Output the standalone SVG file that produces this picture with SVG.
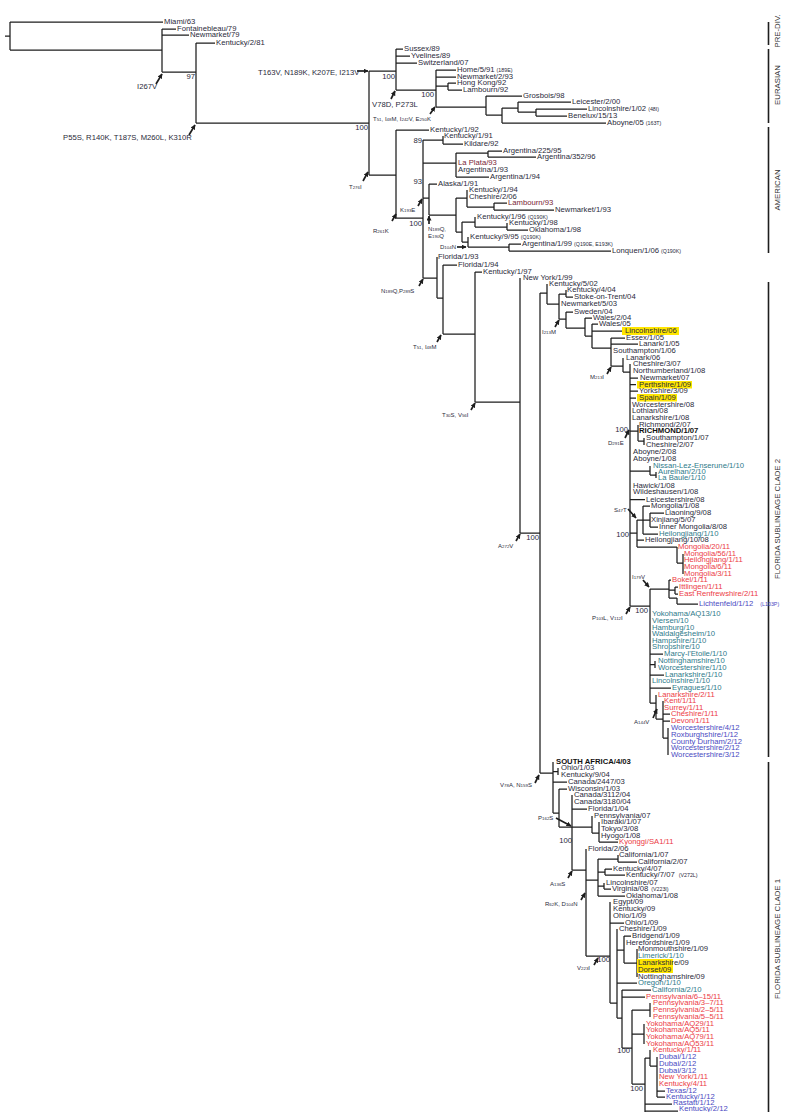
<svg xmlns="http://www.w3.org/2000/svg" width="799" height="1112" viewBox="0 0 799 1112">
<style>
text{font-family:"Liberation Sans",Arial,sans-serif;}
.t{font-size:7.7px;fill:#2a2a3a;}
.r{fill:#ec3b45;}
.b{fill:#4a4ac2;}
.g{fill:#2e7a8a;}
.mr{fill:#7a2535;}
.bd{font-weight:bold;fill:#111;}
.p{font-size:5.3px;}
.m{font-size:6px;fill:#2a2a3a;}
.d{font-size:4.4px;}
.bs{font-size:7.7px;fill:#2a2a3a;text-anchor:end;}
.cl{font-size:7.8px;fill:#333;text-anchor:middle;}
.e{fill:none;stroke:#1e1e1e;stroke-width:1.25;}
.bar{fill:none;stroke:#1e1e1e;stroke-width:1.6;}
.ar{stroke:#1e1e1e;stroke-width:1.7;marker-end:url(#ah);}
.hl{fill:#ffe600;}
</style>
<defs>
<marker id="ah" viewBox="0 0 10 10" refX="9" refY="5" markerWidth="5" markerHeight="5" orient="auto" markerUnits="userSpaceOnUse"><path d="M0,0 L10,5 L0,10 z" fill="#1e1e1e"/></marker>
</defs>
<rect width="799" height="1112" fill="#fff"/>

<g id="connectors">
<path class="e" d="M5,36H10 M10,22V50 M10,22H163 M10,50H162 M162,29V72 M162,29H176 M162,35H189 M162,72H196 M196,43V123 M196,43H215 M196,123H369 M369,71V175 M369,71H396
M396,49V90 M396,49H403 M396,56H410 M396,63H417 M396,90H436 M436,70V107 M436,70H456 M436,77H456 M436,86H448 M448,83V90 M448,83H456 M448,90H462 M436,107H486 M486,96V115 M486,96H522 M486,115H502 M502,108V123 M502,108H518 M518,102V112 M518,102H571 M518,112H536 M536,109V116 M536,109H587 M536,116H567 M502,123H606
M369,175H396 M396,130V218 M396,130H429 M396,218H423 M423,140V278 M423,140H443 M443,136V144 M443,144H463 M423,163H456 M456,153V177 M456,153H488 M488,151V157 M488,151H502 M488,157H536 M456,177H489 M423,198H429 M429,184V215 M429,184H437 M429,215H456 M456,198V232 M456,198H467 M467,190V207 M467,207H494 M494,203V210 M494,203H507 M494,210H554 M456,232H462 M462,222V242 M462,222H475 M475,217V227 M475,227H507 M507,223V230 M507,230H528 M462,242H468 M468,237V247 M468,247H509 M509,244V251 M509,244H521 M509,251H611
M423,278H437 M437,257V298 M437,298H443 M443,265V334 M443,265H457 M443,334H475 M475,272V402 M475,272H482 M475,402H520 M520,278V533 M520,533H540 M540,293V773
M540,293H547 M547,284V304 M547,304H559 M559,294V319 M559,294H566 M566,290V297 M566,297H573 M559,319H566 M566,312V328 M566,312H573 M566,328H585 M585,318V336 M585,318H592 M585,336H592 M592,324V348 M592,324H598 M592,331H622 M592,348H611 M611,338V366 M611,338H625 M611,344H638 M611,366H623 M623,358V372 M623,372H630 M630,364V606 M630,378H638 M630,384.5H636 M630,391H638 M630,398H636 M630,431H638 M638,425V441 M638,441H644 M644,438V445 M630,471H650 M650,466V475 M650,475H656 M656,472V478 M630,499.5H645 M630,533H637 M637,520V547 M637,520H643 M637,540H644 M637,547H677 M643,506V534 M643,506H650 M643,520H650 M650,513V527 M650,513H664 M650,527H658 M643,534H658 M677,547V563 M677,563H683 M683,554V574 M630,606H650 M650,589V703 M650,589H669 M669,580V598 M669,580H671 M669,590H675 M675,587V594 M675,587H678 M675,594H678 M669,598H677 M677,598V604 M677,604H698 M650,654H663 M650,664.5H655 M655,661V668 M650,675H664 M650,688H671 M650,703H656 M656,695V719 M656,719H663 M663,701V738 M663,714H670 M663,721H670 M663,738H668 M668,728V755
M540,773H553 M553,762V813 M553,771.5H558 M558,768V775 M553,782H567 M553,813H559 M559,789V827 M559,789H567 M559,827H592 M572,795V870 M572,809H587 M592,816V833 M592,833H599 M599,822V842 M599,842H618 M572,870H586 M586,849V956 M586,880H598 M598,859V896 M598,859H618 M618,855V862 M618,862H637 M598,872H605 M605,869V875 M605,869H612 M605,875H625 M598,886H604 M604,883V889 M604,889H611 M598,896H625 M586,956H610 M610,902V1003 M610,923H624 M610,1003H617 M617,929V1018 M617,950H624 M624,936V963 M624,936H631 M624,963H637 M637,949V977 M617,983H637 M617,1018H622 M622,990V1048 M622,990H651 M622,997H645 M622,1048H632 M632,1010V1084 M632,1010H650 M650,1003V1017 M632,1034H644 M644,1024V1044 M632,1084H645 M645,1058V1112 M645,1058H650 M650,1050V1066 M650,1066H657 M657,1057V1097 M657,1091H665 M657,1097H665 M645,1104H672 M645,1111H678"/>
<line class="ar" x1="156" y1="84" x2="162" y2="74"/>
<line class="ar" x1="189" y1="135" x2="195" y2="125"/>
<line class="ar" x1="357" y1="71" x2="368" y2="71"/>
<line class="ar" x1="391" y1="99" x2="395" y2="91"/>
<line class="ar" x1="430" y1="114" x2="435" y2="107"/>
<line class="ar" x1="363" y1="181" x2="368" y2="172"/>
<line class="ar" x1="392" y1="221" x2="396" y2="214"/>
<line class="ar" x1="418" y1="206" x2="422" y2="199"/>
<line class="ar" x1="429" y1="224" x2="429" y2="216"/>
<line class="ar" x1="457" y1="247" x2="466" y2="247"/>
<line class="ar" x1="419" y1="286" x2="423" y2="279"/>
<line class="ar" x1="437" y1="342" x2="441" y2="335"/>
<line class="ar" x1="471" y1="410" x2="475" y2="403"/>
<line class="ar" x1="555" y1="327" x2="559" y2="320"/>
<line class="ar" x1="607" y1="374" x2="611" y2="367"/>
<line class="ar" x1="625" y1="438" x2="629" y2="430"/>
<line class="ar" x1="628" y1="509" x2="636" y2="518"/>
<line class="ar" x1="516" y1="541" x2="520" y2="534"/>
<line class="ar" x1="643" y1="580" x2="649" y2="587"/>
<line class="ar" x1="626" y1="614" x2="630" y2="607"/>
<line class="ar" x1="653" y1="718" x2="657" y2="709"/>
<line class="ar" x1="535" y1="783" x2="539" y2="775"/>
<line class="ar" x1="556" y1="818" x2="571" y2="826"/>
<line class="ar" x1="568" y1="878" x2="572" y2="871"/>
<line class="ar" x1="581" y1="900" x2="585" y2="893"/>
<line class="ar" x1="594" y1="965" x2="598" y2="958"/>
</g>

<g id="clade-bars">
<path class="bar" d="M768.5,22V45 M768.5,49V123 M768.5,127V253 M768.5,282V757 M768.5,762V1112"/>
<text class="cl" transform="translate(780,31) rotate(-90)">PRE-DIV.</text>
<text class="cl" transform="translate(780,85) rotate(-90)">EURASIAN</text>
<text class="cl" transform="translate(780,190) rotate(-90)">AMERICAN</text>
<text class="cl" transform="translate(780,519) rotate(-90)">FLORIDA SUBLINEAGE CLADE 2</text>
<text class="cl" transform="translate(780,939) rotate(-90)">FLORIDA SUBLINEAGE CLADE 1</text>
</g>

<g id="mutations">
<text class="t" x="137" y="89">I267V</text>
<text class="t" x="63" y="140">P55S, R140K, T187S, M260L, K310R</text>
<text class="t" x="258" y="75">T163V, N189K, K207E, I213V</text>
<text class="t" x="372" y="107">V78D, P273L</text>
<text class="m" x="373" y="121">T<tspan class="d">51</tspan>, I<tspan class="d">48</tspan>M, I<tspan class="d">242</tspan>V, E<tspan class="d">250</tspan>K</text>
<text class="m" x="349" y="189">T<tspan class="d">276</tspan>I</text>
<text class="m" x="373" y="233">R<tspan class="d">261</tspan>K</text>
<text class="m" x="400" y="212">K<tspan class="d">193</tspan>E</text>
<text class="m" x="428" y="231">N<tspan class="d">189</tspan>Q,</text>
<text class="m" x="428" y="238">E<tspan class="d">190</tspan>Q</text>
<text class="m" x="440" y="249">D<tspan class="d">104</tspan>N</text>
<text class="m" x="381" y="293">N<tspan class="d">189</tspan>Q,P<tspan class="d">289</tspan>S</text>
<text class="m" x="413" y="349">T<tspan class="d">51</tspan>, I<tspan class="d">48</tspan>M</text>
<text class="m" x="442" y="417">T<tspan class="d">30</tspan>S, V<tspan class="d">56</tspan>I</text>
<text class="m" x="542" y="334">I<tspan class="d">213</tspan>M</text>
<text class="m" x="590" y="379">M<tspan class="d">213</tspan>I</text>
<text class="m" x="608" y="445">D<tspan class="d">291</tspan>E</text>
<text class="m" x="614" y="512">S<tspan class="d">47</tspan>T</text>
<text class="m" x="498" y="548">A<tspan class="d">272</tspan>V</text>
<text class="m" x="632" y="579">I<tspan class="d">179</tspan>V</text>
<text class="m" x="592" y="620">P<tspan class="d">103</tspan>L, V<tspan class="d">112</tspan>I</text>
<text class="m" x="634" y="724">A<tspan class="d">144</tspan>V</text>
<text class="m" x="500" y="787">V<tspan class="d">78</tspan>A, N<tspan class="d">159</tspan>S</text>
<text class="m" x="538" y="820">P<tspan class="d">162</tspan>S</text>
<text class="m" x="550" y="886">A<tspan class="d">136</tspan>S</text>
<text class="m" x="545" y="906">R<tspan class="d">62</tspan>K, D<tspan class="d">104</tspan>N</text>
<text class="m" x="577" y="970">V<tspan class="d">223</tspan>I</text>
</g>

<g id="bootstrap">
<text class="bs" x="195" y="79">97</text>
<text class="bs" x="368" y="130">100</text>
<text class="bs" x="395" y="79">100</text>
<text class="bs" x="434" y="97">100</text>
<text class="bs" x="422" y="143">89</text>
<text class="bs" x="422" y="184">93</text>
<text class="bs" x="422" y="226">100</text>
<text class="bs" x="539" y="540">100</text>
<text class="bs" x="628" y="432">100</text>
<text class="bs" x="629" y="537">100</text>
<text class="bs" x="648" y="613">100</text>
<text class="bs" x="572" y="843">100</text>
<text class="bs" x="610" y="962">100</text>
<text class="bs" x="630" y="1053">100</text>
<text class="bs" x="643" y="1091">100</text>
</g>

<g id="highlights">
<rect class="hl" x="622" y="327" width="57" height="8"/>
<rect class="hl" x="637" y="381" width="55" height="7.5"/>
<rect class="hl" x="637" y="394" width="40" height="7.5"/>
<rect class="hl" x="637" y="959" width="36" height="7"/>
<rect class="hl" x="637" y="966" width="36" height="7"/>
</g>

<g id="leaves">
<g id="n001"><text class="t" x="164" y="24">Miami/63</text></g>
<g id="n002"><text class="t" x="177" y="31">Fontainebleau/79</text></g>
<g id="n003"><text class="t" x="190" y="37">Newmarket/79</text></g>
<g id="n004"><text class="t" x="216" y="45">Kentucky/2/81</text></g>
<g id="n005"><text class="t" x="404" y="51">Sussex/89</text></g>
<g id="n006"><text class="t" x="411" y="58">Yvelines/89</text></g>
<g id="n007"><text class="t" x="418" y="65">Switzerland/07</text></g>
<g id="n008"><text class="t" x="457" y="72">Home/5/91<tspan class="p" dx="2">(189E)</tspan></text></g>
<g id="n009"><text class="t" x="457" y="79">Newmarket/2/93</text></g>
<g id="n010"><text class="t" x="457" y="85">Hong Kong/92</text></g>
<g id="n011"><text class="t" x="463" y="92">Lambourn/92</text></g>
<g id="n012"><text class="t" x="523" y="98">Grosbois/98</text></g>
<g id="n013"><text class="t" x="572" y="104">Leicester/2/00</text></g>
<g id="n014"><text class="t" x="588" y="111">Lincolnshire/1/02<tspan class="p" dx="2">(48I)</tspan></text></g>
<g id="n015"><text class="t" x="568" y="118">Benelux/15/13</text></g>
<g id="n016"><text class="t" x="607" y="125">Aboyne/05<tspan class="p" dx="2">(163T)</tspan></text></g>
<g id="n017"><text class="t" x="430" y="132">Kentucky/1/92</text></g>
<g id="n018"><text class="t" x="444" y="138">Kentucky/1/91</text></g>
<g id="n019"><text class="t" x="464" y="146">Kildare/92</text></g>
<g id="n020"><text class="t" x="503" y="153">Argentina/225/95</text></g>
<g id="n021"><text class="t" x="537" y="159">Argentina/352/96</text></g>
<g id="n022"><text class="t mr" x="458" y="165">La Plata/93</text></g>
<g id="n023"><text class="t" x="458" y="172">Argentina/1/93</text></g>
<g id="n024"><text class="t" x="490" y="179">Argentina/1/94</text></g>
<g id="n025"><text class="t" x="438" y="186">Alaska/1/91</text></g>
<g id="n026"><text class="t" x="469" y="192">Kentucky/1/94</text></g>
<g id="n027"><text class="t" x="469" y="199">Cheshire/2/06</text></g>
<g id="n028"><text class="t mr" x="508" y="205">Lambourn/93</text></g>
<g id="n029"><text class="t" x="555" y="212">Newmarket/1/93</text></g>
<g id="n030"><text class="t" x="477" y="219">Kentucky/1/96<tspan class="p" dx="2">(Q190K)</tspan></text></g>
<g id="n031"><text class="t" x="509" y="225">Kentucky/1/98</text></g>
<g id="n032"><text class="t" x="529" y="232">Oklahoma/1/98</text></g>
<g id="n033"><text class="t" x="470" y="239">Kentucky/9/95<tspan class="p" dx="2">(Q190K)</tspan></text></g>
<g id="n034"><text class="t" x="522" y="246">Argentina/1/99<tspan class="p" dx="2">(Q190E, E193K)</tspan></text></g>
<g id="n035"><text class="t" x="612" y="253">Lonquen/1/06<tspan class="p" dx="2">(Q190K)</tspan></text></g>
<g id="n036"><text class="t" x="438" y="259">Florida/1/93</text></g>
<g id="n037"><text class="t" x="458" y="267">Florida/1/94</text></g>
<g id="n038"><text class="t" x="483" y="274">Kentucky/1/97</text></g>
<g id="n039"><text class="t" x="523" y="280">New York/1/99</text></g>
<g id="n040"><text class="t" x="549" y="286">Kentucky/5/02</text></g>
<g id="n041"><text class="t" x="567" y="292">Kentucky/4/04</text></g>
<g id="n042"><text class="t" x="574" y="299">Stoke-on-Trent/04</text></g>
<g id="n043"><text class="t" x="561" y="306">Newmarket/5/03</text></g>
<g id="n044"><text class="t" x="574" y="314">Sweden/04</text></g>
<g id="n045"><text class="t" x="593" y="320">Wales/2/04</text></g>
<g id="n046"><text class="t" x="599" y="326">Wales/05</text></g>
<g id="n047"><text class="t" x="625" y="333">Lincolnshire/06</text></g>
<g id="n048"><text class="t" x="626" y="340">Essex/1/05</text></g>
<g id="n049"><text class="t" x="639" y="346">Lanark/1/05</text></g>
<g id="n050"><text class="t" x="613" y="353">Southampton/1/06</text></g>
<g id="n051"><text class="t" x="626" y="360">Lanark/06</text></g>
<g id="n052"><text class="t" x="633" y="366">Cheshire/3/07</text></g>
<g id="n053"><text class="t" x="633" y="373">Northumberland/1/08</text></g>
<g id="n054"><text class="t" x="640" y="380">Newmarket/07</text></g>
<g id="n055"><text class="t" x="639" y="386.5">Perthshire/1/09</text></g>
<g id="n056"><text class="t" x="639" y="393">Yorkshire/3/09</text></g>
<g id="n057"><text class="t" x="639" y="400">Spain/1/09</text></g>
<g id="n058"><text class="t" x="632" y="407">Worcestershire/08</text></g>
<g id="n059"><text class="t" x="632" y="413">Lothian/08</text></g>
<g id="n060"><text class="t" x="632" y="420">Lanarkshire/1/08</text></g>
<g id="n061"><text class="t" x="639" y="427">Richmond/2/07</text></g>
<g id="n062"><text class="t bd" x="639" y="433">RICHMOND/1/07</text></g>
<g id="n063"><text class="t" x="646" y="440">Southampton/1/07</text></g>
<g id="n064"><text class="t" x="646" y="447">Cheshire/2/07</text></g>
<g id="n065"><text class="t" x="633" y="454">Aboyne/2/08</text></g>
<g id="n066"><text class="t" x="633" y="461">Aboyne/1/08</text></g>
<g id="n067"><text class="t g" x="653" y="468">Nissan-Lez-Enserune/1/10</text></g>
<g id="n068"><text class="t g" x="658" y="474">Aurelhan/2/10</text></g>
<g id="n069"><text class="t g" x="658" y="480">La Baule/1/10</text></g>
<g id="n070"><text class="t" x="633" y="488">Hawick/1/08</text></g>
<g id="n071"><text class="t" x="633" y="494">Wildeshausen/1/08</text></g>
<g id="n072"><text class="t" x="646" y="501.5">Leicestershire/08</text></g>
<g id="n073"><text class="t" x="651" y="508">Mongolia/1/08</text></g>
<g id="n074"><text class="t" x="665" y="515">Liaoning/9/08</text></g>
<g id="n075"><text class="t" x="651" y="522">Xinjiang/5/07</text></g>
<g id="n076"><text class="t" x="659" y="529">Inner Mongolia/8/08</text></g>
<g id="n077"><text class="t g" x="659" y="536">Heilongjiang/1/10</text></g>
<g id="n078"><text class="t" x="645" y="542">Heilongjiang/10/08</text></g>
<g id="n079"><text class="t r" x="678" y="549">Mongolia/20/11</text></g>
<g id="n080"><text class="t r" x="684" y="556">Mongolia/56/11</text></g>
<g id="n081"><text class="t r" x="684" y="562">Heilongjiang/1/11</text></g>
<g id="n082"><text class="t r" x="684" y="569">Mongolia/6/11</text></g>
<g id="n083"><text class="t r" x="684" y="576">Mongolia/3/11</text></g>
<g id="n084"><text class="t r" x="672" y="582">Bokel/1/11</text></g>
<g id="n085"><text class="t r" x="679" y="589">Ittlingen/1/11</text></g>
<g id="n086"><text class="t r" x="679" y="596">East Renfrewshire/2/11</text></g>
<g id="n087"><text class="t b" x="699" y="606">Lichtenfeld/1/12<tspan class="p" dx="7">(L103P)</tspan></text></g>
<g id="n088"><text class="t g" x="652" y="616">Yokohama/AQ13/10</text></g>
<g id="n089"><text class="t g" x="652" y="623">Viersen/10</text></g>
<g id="n090"><text class="t g" x="652" y="630">Hamburg/10</text></g>
<g id="n091"><text class="t g" x="652" y="636">Waldalgesheim/10</text></g>
<g id="n092"><text class="t g" x="652" y="643">Hampshire/1/10</text></g>
<g id="n093"><text class="t g" x="652" y="649">Shropshire/10</text></g>
<g id="n094"><text class="t g" x="664" y="656">Marcy-l'Etoile/1/10</text></g>
<g id="n095"><text class="t g" x="658" y="663">Nottinghamshire/10</text></g>
<g id="n096"><text class="t g" x="658" y="670">Worcestershire/1/10</text></g>
<g id="n097"><text class="t g" x="665" y="677">Lanarkshire/1/10</text></g>
<g id="n098"><text class="t g" x="652" y="683">Lincolnshire/1/10</text></g>
<g id="n099"><text class="t g" x="672" y="690">Eyragues/1/10</text></g>
<g id="n100"><text class="t r" x="658" y="697">Lanarkshire/2/11</text></g>
<g id="n101"><text class="t r" x="664" y="703">Kent/1/11</text></g>
<g id="n102"><text class="t r" x="664" y="710">Surrey/1/11</text></g>
<g id="n103"><text class="t r" x="671" y="716">Cheshire/1/11</text></g>
<g id="n104"><text class="t r" x="671" y="723">Devon/1/11</text></g>
<g id="n105"><text class="t b" x="671" y="730">Worcestershire/4/12</text></g>
<g id="n106"><text class="t b" x="671" y="737">Roxburghshire/1/12</text></g>
<g id="n107"><text class="t b" x="671" y="744">County Durham/2/12</text></g>
<g id="n108"><text class="t b" x="671" y="750">Worcestershire/2/12</text></g>
<g id="n109"><text class="t b" x="671" y="757">Worcestershire/3/12</text></g>
<g id="n110"><text class="t bd" x="556" y="764">SOUTH AFRICA/4/03</text></g>
<g id="n111"><text class="t" x="561" y="770">Ohio/1/03</text></g>
<g id="n112"><text class="t" x="561" y="777">Kentucky/9/04</text></g>
<g id="n113"><text class="t" x="568" y="784">Canada/2447/03</text></g>
<g id="n114"><text class="t" x="568" y="791">Wisconsin/1/03</text></g>
<g id="n115"><text class="t" x="574" y="797">Canada/3112/04</text></g>
<g id="n116"><text class="t" x="574" y="804">Canada/3180/04</text></g>
<g id="n117"><text class="t" x="588" y="811">Florida/1/04</text></g>
<g id="n118"><text class="t" x="594" y="818">Pennsylvania/07</text></g>
<g id="n119"><text class="t" x="601" y="824">Ibaraki/1/07</text></g>
<g id="n120"><text class="t" x="601" y="831">Tokyo/3/08</text></g>
<g id="n121"><text class="t" x="601" y="838">Hyogo/1/08</text></g>
<g id="n122"><text class="t r" x="619" y="844">Kyonggi/SA1/11</text></g>
<g id="n123"><text class="t" x="588" y="851">Florida/2/06</text></g>
<g id="n124"><text class="t" x="619" y="857">California/1/07</text></g>
<g id="n125"><text class="t" x="638" y="864">California/2/07</text></g>
<g id="n126"><text class="t" x="613" y="871">Kentucky/4/07</text></g>
<g id="n127"><text class="t" x="626" y="877">Kentucky/7/07<tspan class="p" dx="4">(V272L)</tspan></text></g>
<g id="n128"><text class="t" x="606" y="885">Lincolnshire/07</text></g>
<g id="n129"><text class="t" x="612" y="891">Virginia/08<tspan class="p" dx="3">(V223I)</tspan></text></g>
<g id="n130"><text class="t" x="626" y="898">Oklahoma/1/08</text></g>
<g id="n131"><text class="t" x="613" y="904">Egypt/09</text></g>
<g id="n132"><text class="t" x="613" y="911">Kentucky/09</text></g>
<g id="n133"><text class="t" x="613" y="918">Ohio/1/09</text></g>
<g id="n134"><text class="t" x="625" y="925">Ohio/1/09</text></g>
<g id="n135"><text class="t" x="619" y="931">Cheshire/1/09</text></g>
<g id="n136"><text class="t" x="632" y="938">Bridgend/1/09</text></g>
<g id="n137"><text class="t" x="626" y="945">Herefordshire/1/09</text></g>
<g id="n138"><text class="t" x="638" y="951">Monmouthshire/1/09</text></g>
<g id="n139"><text class="t g" x="638" y="958">Limerick/1/10</text></g>
<g id="n140"><text class="t" x="638" y="965">Lanarkshire/09</text></g>
<g id="n141"><text class="t" x="638" y="972">Dorset/09</text></g>
<g id="n142"><text class="t" x="638" y="979">Nottinghamshire/09</text></g>
<g id="n143"><text class="t g" x="638" y="985">Oregon/1/10</text></g>
<g id="n144"><text class="t g" x="652" y="992">California/2/10</text></g>
<g id="n145"><text class="t r" x="646" y="999">Pennsylvania/6–15/11</text></g>
<g id="n146"><text class="t r" x="653" y="1005">Pennsylvania/3–7/11</text></g>
<g id="n147"><text class="t r" x="653" y="1012">Pennsylvania/2–5/11</text></g>
<g id="n148"><text class="t r" x="653" y="1019">Pennsylvania/5–5/11</text></g>
<g id="n149"><text class="t r" x="646" y="1026">Yokohama/AQ29/11</text></g>
<g id="n150"><text class="t r" x="646" y="1032">Yokohama/AQ5/11</text></g>
<g id="n151"><text class="t r" x="646" y="1039">Yokohama/AQ79/11</text></g>
<g id="n152"><text class="t r" x="646" y="1046">Yokohama/AQ53/11</text></g>
<g id="n153"><text class="t r" x="653" y="1052">Kentucky/1/11</text></g>
<g id="n154"><text class="t b" x="659" y="1059">Dubai/1/12</text></g>
<g id="n155"><text class="t b" x="659" y="1066">Dubai/2/12</text></g>
<g id="n156"><text class="t b" x="659" y="1073">Dubai/3/12</text></g>
<g id="n157"><text class="t r" x="659" y="1079">New York/1/11</text></g>
<g id="n158"><text class="t r" x="659" y="1086">Kentucky/4/11</text></g>
<g id="n159"><text class="t b" x="666" y="1093">Texas/12</text></g>
<g id="n160"><text class="t b" x="666" y="1099">Kentucky/1/12</text></g>
<g id="n161"><text class="t b" x="673" y="1105">Rastatt/1/12</text></g>
<g id="n162"><text class="t b" x="679" y="1111">Kentucky/2/12</text></g>
</g>
</svg>
